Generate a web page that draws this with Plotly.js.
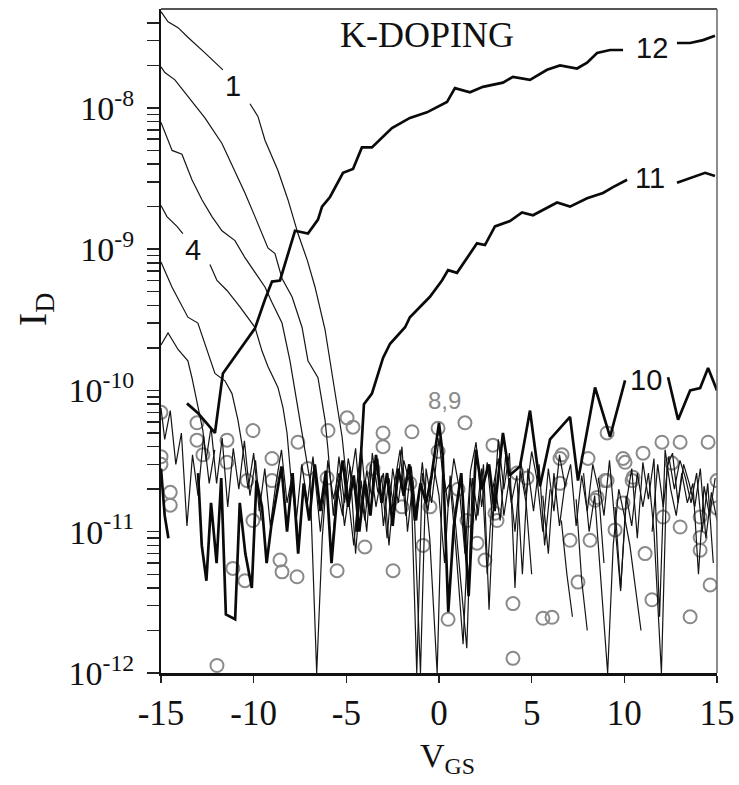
<!DOCTYPE html>
<html>
<head>
<meta charset="utf-8">
<script src="https://cdn.plot.ly/plotly-3.0.1.min.js"></script>
<style>html,body{margin:0;padding:0;background:#fff;}#chart{width:739px;height:785px;}</style>
</head>
<body>
<div id="chart"></div>
<script>
// ---------- DATA (V_GS in volts, I_D in amperes) ----------
const x1 = [-15, -14.62, -14.08, -13.55, -12.63, -11.66, -11.0, -10.20, -9.77, -9.39, -8.69, -8.15, -7.61, -7.1, -6.69, -6.15, -5.50, -5.23, -4.9, -4.6, -4.3, -4.0, -3.7, -3.4, -3.1, -2.8, -2.5, -2.2, -1.9, -1.5, -1.2, -0.9, -0.6, -0.3, 0.0, 0.3, 0.6, 0.9, 1.5, 1.8, 2.1, 2.4, 2.7, 3.0, 3.3, 3.6, 3.9, 4.2, 4.5, 4.8, 5.1, 5.4, 5.7, 6.0, 6.3, 6.6, 6.9, 7.2, 7.5, 7.8, 8.1, 8.4, 8.7, 9.1, 9.4, 9.7, 10.0, 10.3, 10.9, 11.2, 11.5, 11.8, 12.1, 12.4, 12.7, 13.0, 13.3, 13.6, 13.9, 14.2, 14.5, 14.8];
const y1 = [4.8e-8, 4.07e-8, 3.7e-8, 3.16e-8, 2.45e-8, 1.86e-8, null, 1.07e-8, 8.7e-9, 5.9e-9, 3.6e-9, 2.24e-9, 1.29e-9, 8.3e-10, 5.4e-10, 2.7e-10, 7.6e-11, 4.7e-11, 1.8e-11, 8e-12, 2.2e-11, 1.2e-11, 3.0e-11, 1.5e-11, 2.5e-11, 9e-12, 2.8e-11, 1.6e-11, 3.2e-11, 2.0e-11, 1.0e-12, 2.6e-11, 1.4e-11, 3.0e-11, 1.8e-11, 6e-12, 2.5e-11, 1.1e-11, 1.5e-12, 2.4e-11, 1.3e-11, 3.0e-11, 2.8e-12, 2.2e-11, 1.2e-11, 3.5e-11, 1.6e-11, 2.5e-11, 5e-12, 2.8e-11, 1.4e-11, 3.0e-11, 8e-12, 2.0e-11, null, 1.2e-11, 5e-12, 2.5e-12, null, 2.6e-11, 1.0e-11, 1.8e-11, 5e-12, 1.0e-12, 8e-12, 2.0e-11, 1.3e-11, 8e-12, 2e-12, null, 1.0e-11, 3.0e-11, 1.5e-11, 3.4e-11, 2.0e-11, 3.2e-11, 2.4e-11, 1.6e-11, 2.6e-11, 1.0e-11, 2.2e-11, 6e-12];

const x2 = [-15, -14.79, -14.25, -13.55, -12.63, -11.71, -11.01, -10.47, -9.93, -9.23, -8.85, -8.47, -7.93, -7.39, -7.07, -6.53, -6.15, -5.99, -5.7, -5.4, -5.1, -4.8, -4.5, -4.2, -3.9, -3.6, -3.3, -3.0, -2.7, -2.4, -2.1, -1.8, -1.5, -1.2, -0.9, -0.5, -0.1, 0.2, 0.5, 0.8, 1.1, 1.4, 1.7, 2.0, 2.3, 2.6, 2.9, 3.2, 3.5, 3.8, 4.1, 4.4, 4.7, 5.0, 5.3, 5.6, 5.9, 6.2, 6.5, 6.8, 7.1, 7.4, 7.7, 8.0, 8.3, 8.6, 8.9, 9.2, 9.5, 9.8, 10.1, 10.4, 10.7, 11.0, 11.3, 11.6, 11.9, 12.2, 12.5, 12.8, 13.1, 13.4, 13.7, 14.0, 14.3, 14.6, 14.9];
const y2 = [1.95e-8, 1.78e-8, 1.58e-8, 1.2e-8, 8.5e-9, 5.6e-9, 3.6e-9, 2.5e-9, 1.7e-9, 1.02e-9, 9.3e-10, 6.2e-10, 4.6e-10, 2.8e-10, 1.62e-10, 1.23e-10, 6.2e-11, 3.8e-11, 1.3e-11, 3.4e-11, 1.6e-11, 2.9e-11, 7e-12, 2.3e-11, 1.0e-11, 3.6e-11, 1.9e-11, 2.6e-11, 8e-12, 2.2e-11, 3.8e-11, 1.3e-11, 2.9e-11, 1.2e-11, 3.1e-11, 9e-12, 1.0e-12, 2.9e-11, 1.5e-11, 3.3e-11, 2.0e-11, 7e-12, 2.7e-11, 4.3e-11, 1.5e-11, 3.1e-11, 1.2e-11, 4.5e-11, 2.0e-11, 3.6e-11, 4e-12, 3.2e-11, 1.8e-11, 3.7e-11, 2.3e-11, 1.0e-11, 2.8e-11, 1.4e-11, 3.5e-11, 2.1e-11, 3.0e-11, 1.1e-11, 2.5e-11, 1.4e-11, 3.0e-11, 2.0e-11, 6e-12, null, 1.5e-11, 4e-12, 1.6e-11, 2.8e-11, 9e-12, 3.1e-11, 1.7e-11, 3.3e-11, 2.5e-12, 3.8e-11, 2.0e-11, 1.3e-11, 2.6e-11, 1.6e-11, 2.2e-11, 5e-12, 2.1e-11, 1.3e-11, 2.4e-11];

const x3 = [-15, -14.4, -13.87, -13.33, -12.79, -12.25, -11.71, -11.01, -10.47, -9.93, -9.39, -9.01, -8.47, -8.04, -7.77, -7.50, -7.23, -6.96, -6.6, -6.3, -6.0, -5.7, -5.4, -5.1, -4.8, -4.5, -4.2, -3.9, -3.6, -3.3, -3.0, -2.7, -2.4, -2.0, -1.7, -1.4, -1.0, -0.7, -0.4, 0.0, 0.3, 0.6, 0.9, 1.3, 1.7, 2.0, 2.3, 2.6, 2.9, 3.2, 3.5, 3.8, 4.1, 4.4, 4.7, 5.0, 5.3, 5.6, 5.9, 6.2, 6.5, 6.8, 7.1, 7.4, 7.7, 8.0, 8.3, 8.6, 8.9, 9.2, 9.5, 9.8, 10.1, 10.4, 10.7, 11.0, 11.3, 11.6, 12.0, 12.3, 12.6, 12.9, 13.2, 13.5, 13.8, 14.1, 14.4, 14.7, 15.0];
const y3 = [7.9e-9, 5.0e-9, 4.7e-9, 3.1e-9, 2.24e-9, 1.7e-9, 1.35e-9, 1.15e-9, 8.7e-10, 6.8e-10, 5.4e-10, 4.2e-10, 3.0e-10, 1.62e-10, 1.0e-10, 6.2e-11, 3.8e-11, 2.3e-11, 1.0e-12, 9e-12, 3.2e-11, 1.7e-11, 2.6e-11, 1.1e-11, 2.1e-11, 3.9e-11, 1.3e-11, 2.7e-11, 1.7e-11, 3.3e-11, 1.1e-11, 2.4e-11, 1.4e-11, 4.0e-11, 1.0e-11, 2.3e-11, 1.0e-12, 2.8e-11, 1.6e-11, 4.6e-11, 1.9e-11, 2.2e-11, 8e-12, 1.6e-12, 2.4e-11, 1.2e-11, 2.8e-11, 5e-12, 2.0e-11, 3.3e-11, 1.3e-11, 2.4e-11, 1.0e-11, 2.7e-11, 1.6e-11, 5e-12, null, 1.8e-11, 7e-12, 2.6e-11, 1.1e-11, 2.2e-11, null, 1.7e-11, 4.5e-12, 2.0e-12, null, 2.4e-11, 1.3e-11, 3.2e-11, 1.1e-11, 3.8e-12, 1.8e-11, 1.1e-11, 2.6e-11, 1.5e-11, 2.6e-11, 1.0e-11, 1.0e-12, 2.9e-11, 3.6e-11, 1.6e-11, 3.0e-11, 2.2e-11, 1.5e-11, 2.8e-11, 9e-12, 1.9e-11, 1.2e-11];

const x4 = [-15, -14.68, -14.14, -13.82, -13.1, -12.36, -11.98, -11.44, -10.74, -9.93, -9.55, -9.23, -8.69, -8.42, -8.20, -8.0, -7.7, -7.4, -7.1, -6.8, -6.4, -6.1, -5.8, -5.5, -5.2, -4.9, -4.5, -4.2, -3.9];
const y4 = [2.04e-9, 1.7e-9, 1.45e-9, 1.29e-9, null, 7.8e-10, 6.0e-10, 5.1e-10, 3.9e-10, 2.8e-10, 1.9e-10, 1.48e-10, 1.05e-10, 7.6e-11, 5.0e-11, 2.5e-11, 1.2e-11, 3.0e-11, 1.6e-11, 3.4e-11, 1.0e-11, 2.4e-11, 7e-12, 2.0e-11, 1.3e-11, 3.3e-11, 1.8e-11, 4.0e-11, 1.5e-11];

const x5 = [-15, -14.41, -13.55, -13.01, -12.09, -11.55, -11.17, -10.85, -10.58, -10.3, -10.0, -9.7, -9.4, -9.1, -8.8, -8.5, -8.2, -7.9, -7.6];
const y5 = [8.1e-10, 5.4e-10, 3.3e-10, 3.0e-10, 1.32e-10, 1.17e-10, 9.5e-11, 6.2e-11, 3.8e-11, 2.0e-11, 3.6e-11, 1.4e-11, 2.8e-11, 1.1e-11, 2.2e-11, 3.8e-11, 1.6e-11, 2.6e-11, 9e-12];

const x6 = [-15, -14.62, -14.08, -13.55, -13.33, -13.06, -12.74, -12.57, -12.3, -12.0, -11.7, -11.4, -11.1, -10.8, -10.5, -10.2, -9.9, -9.6];
const y6 = [2.1e-10, 2.55e-10, 1.95e-10, 1.62e-10, 1.23e-10, 8.5e-11, 5.2e-11, 3.2e-11, 5.5e-11, 2.2e-11, 4.6e-11, 1.5e-11, 3.9e-11, 2.0e-11, 4.4e-11, 1.8e-11, 3.2e-11, 1.2e-11];

const x7 = [-15, -14.8, -14.5, -14.2, -13.9, -13.6, -13.3, -13.0, -12.7, -12.4, -12.1];
const y7 = [7.5e-11, 4.5e-11, 7.2e-11, 3.0e-11, 5.0e-11, 1.1e-11, 3.5e-11, 1.8e-11, 4.8e-11, 2.2e-11, 3.8e-11];

// curves 8,9 (open circles)
const x89 = [-15.0, -15.0, -15.0, -14.5, -14.5, -13.06, -13.06, -12.74, -11.44, -11.44, -11.12, -10.47, -10.36, -10.04, -10.04, -9.01, -9.01, -8.58, -8.47, -7.66, -7.61, -7.07, -5.99, -6.04, -5.5, -4.96, -4.64, -11.98, -3.56, -3.02, -3.02, -1.46, -0.05, -0.05, 1.40, -2.48, -1.57, -2.0, -0.49, -0.86, 0.49, 1.03, 1.51, 2.05, 2.48, 2.91, 3.13, 3.99, 3.99, 4.21, 4.75, 5.61, 6.10, 6.53, 6.53, 7.07, 7.50, 8.04, 8.15, 8.53, 8.96, 9.07, 9.5, 9.93, 9.93, 10.47, 11.01, 11.12, 11.49, 12.03, 12.09, 12.57, 13.01, 13.01, 13.55, 14.09, 14.09, 14.09, 14.52, 14.63, 15.0, 15.0, -4.0, 3.02, 6.64, 9.07, 8.42, 10.04, 10.42];
const y89 = [7.0e-11, 3.4e-11, 3.0e-11, 1.9e-11, 1.54e-11, 5.9e-11, 4.45e-11, 3.5e-11, 4.45e-11, 3.1e-11, 5.5e-12, 4.5e-12, 2.3e-11, 5.2e-11, 1.2e-11, 3.3e-11, 2.3e-11, 6.3e-12, 5.2e-12, 4.8e-12, 4.3e-11, 2.8e-11, 5.2e-11, 2.4e-11, 5.3e-12, 6.4e-11, 5.5e-11, 1.13e-12, 2.8e-11, 5.0e-11, 4.0e-11, 5.1e-11, 5.4e-11, 3.7e-11, 5.9e-11, 5.3e-12, 2.2e-11, 1.5e-11, 1.5e-11, 8.0e-12, 2.4e-12, 2.0e-11, 1.2e-11, 8.3e-12, 6.3e-12, 4.1e-11, 1.2e-11, 3.1e-12, 1.27e-12, 2.6e-11, 2.4e-11, 2.44e-12, 2.48e-12, 3.3e-11, 2.2e-11, 8.7e-12, 4.4e-12, 3.3e-11, 8.7e-12, 1.75e-11, 2.3e-11, 5.0e-11, 1.03e-11, 3.3e-11, 1.6e-11, 2.43e-11, 3.6e-11, 7.0e-12, 3.3e-12, 4.3e-11, 1.27e-11, 3.06e-11, 4.3e-11, 1.08e-11, 2.5e-12, 1.27e-11, 9.1e-12, 7.4e-12, 4.3e-11, 4.2e-12, 2.3e-11, 1.47e-11, 7.8e-12, 1.35e-11, 3.5e-11, 2.3e-11, 1.67e-11, 3.1e-11, 2.3e-11];

// curve 10 (bold, noisy)
const x10 = [-15.0, -14.8, -14.6, -14.4, -13.0, -12.8, -12.55, -12.3, -12.0, -11.75, -11.5, -11.0, -10.75, -10.45, -10.1, -9.85, -9.55, -9.3, -9.05, -8.7, -8.5, -8.2, -7.9, -7.6, -7.3, -7.0, -6.7, -6.4, -6.1, -5.8, -5.5, -5.2, -4.9, -4.6, -4.3, -4.0, -3.7, -3.4, -3.1, -2.8, -2.5, -2.2, -1.9, -1.6, -1.3, -1.0, -0.7, -0.4, 0.0, 0.2, 0.5, 0.8, 1.2, 1.6, 2.0, 2.3, 2.7, 3.0, 3.45, 3.8, 4.37, 4.91, 5.45, 5.99, 7.07, 7.5, 8.42, 9.23, 10.04, 11.2, 12.36, 12.9, 13.55, 14.09, 14.52, 15.0];
const y10 = [2.8e-11, 1.3e-11, 9e-12, null, 2.6e-11, 8e-12, 4.5e-12, 1.6e-11, 6e-12, 2.4e-11, 2.6e-12, 2.4e-12, 1.6e-11, 7e-12, 4e-12, 2.3e-11, 1.5e-11, 6e-12, 1.1e-11, 2.0e-11, 2.9e-11, 1.0e-11, 2.6e-11, 7e-12, 2.2e-11, 1.2e-11, 3.0e-11, 1.4e-11, 2.7e-11, 6e-12, 1.8e-11, 3.2e-11, 1.5e-11, 2.5e-11, 1.0e-11, 2.3e-11, 1.3e-11, 3.5e-11, 1.6e-11, 2.6e-11, 1.1e-11, 2.8e-11, 1.8e-11, 3.0e-11, 1.2e-11, 2.2e-11, 1.6e-11, 2.5e-11, 5.9e-11, 3.5e-11, 2.7e-12, 1.1e-11, 2.6e-11, 3.5e-12, 3.8e-11, 2.0e-11, 3.0e-11, 1.4e-11, 5.0e-11, 2.5e-11, 2.9e-11, 7.2e-11, 2.1e-11, 4.5e-11, 6.5e-11, 2.3e-11, 1.05e-10, 4.7e-11, 1.18e-10, null, 1.24e-10, 6.2e-11, 1.0e-10, 1.04e-10, 1.44e-10, 1.0e-10];

// curve 11 (bold)
const x11 = [-4.45, -4.2, -4.05, -3.62, -3.02, -2.64, -1.83, -1.57, -0.49, 0.16, 0.49, 0.97, 1.67, 2.05, 2.48, 3.02, 3.83, 4.48, 5.07, 6.37, 7.07, 7.99, 8.85, 9.39, 10.15, 11.4, 12.84, 13.71, 14.36, 14.89];
const y11 = [1.0e-11, 3.5e-11, 8.0e-11, 9.5e-11, 1.7e-10, 2.14e-10, 2.8e-10, 3.3e-10, 4.6e-10, 6.0e-10, 7.1e-10, 6.8e-10, 9.3e-10, 1.1e-9, 1.07e-9, 1.45e-9, 1.58e-9, 1.82e-9, 1.74e-9, 2.14e-9, 2.0e-9, 2.29e-9, 2.5e-9, 2.75e-9, 3.1e-9, null, 2.95e-9, 3.24e-9, 3.47e-9, 3.3e-9];

// curve 12 (bold)
const x12 = [-13.6, -13.0, -12.09, -11.66, -10.8, -9.93, -9.39, -9.01, -8.58, -7.77, -7.07, -6.53, -6.31, -5.88, -5.18, -4.64, -4.16, -3.62, -2.54, -1.57, -0.65, 0.43, 0.86, 1.67, 2.37, 3.45, 3.99, 4.91, 5.83, 6.53, 7.45, 7.99, 8.53, 9.23, 9.93, 11.4, 12.84, 13.55, 14.25, 14.89];
const y12 = [8.1e-11, 6.9e-11, 5.0e-11, 1.32e-10, 1.9e-10, 2.75e-10, 4.4e-10, 5.9e-10, 6.0e-10, 1.35e-9, 1.29e-9, 1.62e-9, 2.0e-9, 2.34e-9, 3.47e-9, 3.7e-9, 5.25e-9, 5.25e-9, 7.2e-9, 8.5e-9, 9.3e-9, 1.1e-8, 1.38e-8, 1.29e-8, 1.41e-8, 1.51e-8, 1.66e-8, 1.58e-8, 1.86e-8, 2.0e-8, 1.9e-8, 2.09e-8, 2.45e-8, 2.57e-8, 2.57e-8, null, 2.88e-8, 2.88e-8, 3.02e-8, 3.24e-8];

// tick labels
const xTickVals = [-15, -10, -5, 0, 5, 10, 15];
const xTickText = ["-15", "-10", "-5", "0", "5", "10", "15"];
const yDecades = [1e-12, 1e-11, 1e-10, 1e-9, 1e-8];
const yDecadeText = ["10<sup>-12</sup>", "10<sup>-11</sup>", "10<sup>-10</sup>", "10<sup>-9</sup>", "10<sup>-8</sup>"];

// curve labels
const curveLabels = [
  {text: "1",  x: -11.12, y: 1.43e-8},
  {text: "4",  x: -13.28, y: 9.9e-10},
  {text: "12", x: 11.5,   y: 2.65e-8},
  {text: "11", x: 11.39,  y: 3.18e-9},
  {text: "10", x: 11.17,  y: 1.18e-10}
];

// ---------- BUILD ----------
const yTickVals = [], yTickText = [];
yDecades.forEach((d, i) => {
  for (let m = 1; m <= 9; m++) {
    const v = m * d;
    if (v > 4.5e-8) break;
    yTickVals.push(v);
    yTickText.push(m === 1 ? yDecadeText[i] : "");
  }
});

const thin = {color: '#151515', width: 1.2};
const bold = {color: '#0a0a0a', width: 2.7};
function line(x, y, ln) {
  return {x, y, type: 'scatter', mode: 'lines', line: ln, connectgaps: false, hoverinfo: 'skip'};
}
const traces = [
  {x: x89, y: y89, type: 'scatter', mode: 'markers', hoverinfo: 'skip',
   marker: {symbol: 'circle-open', size: 13, color: '#8a8a8a', line: {width: 2, color: '#8a8a8a'}}},
  line(x7, y7, thin), line(x6, y6, thin), line(x5, y5, thin), line(x4, y4, thin),
  line(x3, y3, thin), line(x2, y2, thin), line(x1, y1, thin),
  line(x10, y10, bold), line(x11, y11, bold), line(x12, y12, bold)
];

const sans = 'Liberation Sans, Arial, sans-serif';
const serif = 'Liberation Serif, Times New Roman, serif';
const annotations = curveLabels.map(l => ({
  x: l.x, y: Math.log10(l.y), xref: 'x', yref: 'y', text: l.text, showarrow: false,
  xanchor: 'center', yanchor: 'middle',
  font: {family: sans, size: 29, color: '#111'}
}));
annotations.push({x: 0.27, y: Math.log10(8.5e-11), xref: 'x', yref: 'y', text: '8,9', showarrow: false,
  xanchor: 'center', yanchor: 'middle', font: {family: sans, size: 24, color: '#8a8a8a'}});
annotations.push({x: 0.478, y: 0.961, xref: 'paper', yref: 'paper', text: 'K-DOPING', showarrow: false,
  xanchor: 'center', yanchor: 'middle', font: {family: serif, size: 36, color: '#111'}});
annotations.push({x: -0.2266, y: 0.548, xref: 'paper', yref: 'paper', text: 'I<sub>D</sub>', showarrow: false,
  xanchor: 'center', yanchor: 'middle', textangle: -90, font: {family: serif, size: 40, color: '#111'}});
annotations.push({x: 0.516, y: -0.128, xref: 'paper', yref: 'paper', text: 'V<sub>GS</sub>', showarrow: false,
  xanchor: 'center', yanchor: 'middle', font: {family: serif, size: 34, color: '#111'}});

const layout = {
  width: 739, height: 785,
  margin: {l: 161, r: 22, t: 9, b: 112},
  paper_bgcolor: '#fff', plot_bgcolor: '#fff',
  showlegend: false,
  font: {family: serif, color: '#111'},
  xaxis: {
    range: [-15, 15], tickmode: 'array', tickvals: xTickVals, ticktext: xTickText,
    ticks: 'outside', ticklen: 7, tickwidth: 1.5, tickcolor: '#222',
    showline: true, linewidth: 3, linecolor: '#111', showgrid: false, zeroline: false,
    tickfont: {family: serif, size: 35, color: '#111'}
  },
  yaxis: {
    type: 'log', range: [-12, -7.3], tickmode: 'array', tickvals: yTickVals, ticktext: yTickText,
    ticks: 'outside', ticklen: 12, tickwidth: 1.5, tickcolor: '#222', ticklabelstandoff: 6,
    showline: true, linewidth: 2, linecolor: '#111', showgrid: false, zeroline: false,
    tickfont: {family: serif, size: 34, color: '#111'}
  },
  shapes: [
    {type: 'line', xref: 'paper', yref: 'paper', x0: 0, x1: 1, y0: 1, y1: 1, line: {color: '#555', width: 2}},
    {type: 'line', xref: 'paper', yref: 'paper', x0: 1, x1: 1, y0: 0, y1: 1, line: {color: '#666', width: 1.5}}
  ],
  annotations
};

Plotly.newPlot('chart', traces, layout, {staticPlot: true, displayModeBar: false});
</script>
</body>
</html>
